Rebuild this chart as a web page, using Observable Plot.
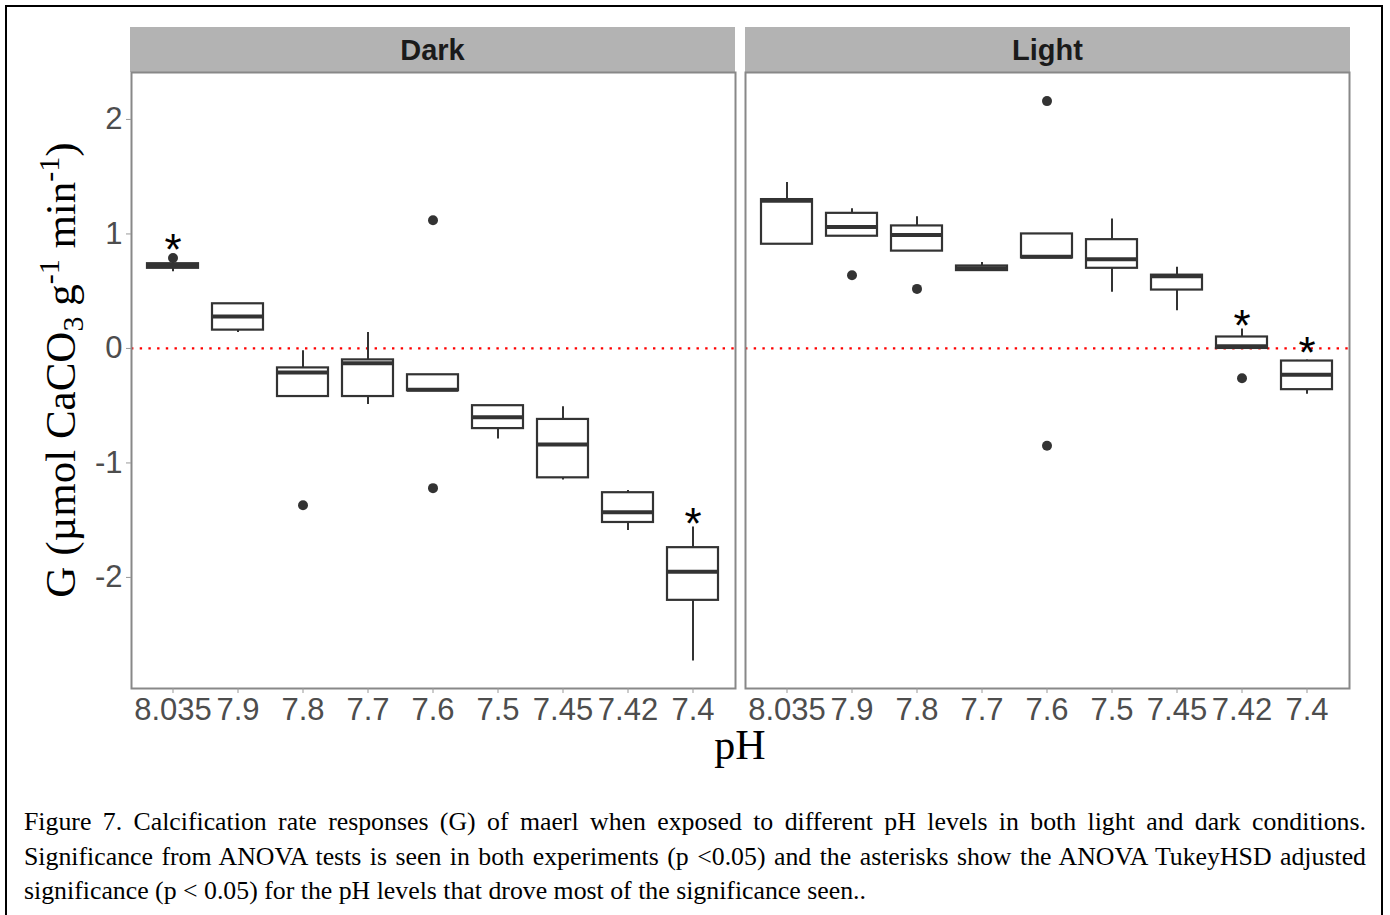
<!DOCTYPE html>
<html>
<head>
<meta charset="utf-8">
<script src="https://cdn.jsdelivr.net/npm/d3@7"></script>
<script src="https://cdn.jsdelivr.net/npm/@observablehq/plot@0.6"></script>
<style>
  html, body { margin: 0; padding: 0; background: #fff; }
  #wrap { position: relative; width: 1390px; height: 915px; overflow: hidden; }
  #border { position: absolute; left: 5px; top: 5px; width: 1378px; height: 920px; border: 2px solid #000; box-sizing: border-box; }
  #chart { position: absolute; left: 0; top: 0; }
  #caption { position: absolute; left: 24px; top: 805px; width: 1342px; font-family: "Liberation Serif", serif; font-size: 25.8px; line-height: 34.5px; color: #000; }
  #caption .j { text-align: justify; text-align-last: justify; white-space: nowrap; }
  #caption .l { text-align: left; white-space: nowrap; }
</style>
</head>
<body>
<div id="wrap">
  <div id="border"></div>
  <div id="chart"></div>
  <div id="caption">
    <div class="j">Figure 7. Calcification rate responses (G) of maerl when exposed to different pH levels in both light and dark conditions.</div>
    <div class="j">Significance from ANOVA tests is seen in both experiments (p &lt;0.05) and the asterisks show the ANOVA TukeyHSD adjusted</div>
    <div class="l">significance (p &lt; 0.05) for the pH levels that drove most of the significance seen..</div>
  </div>
</div>
<script>
// ---- data ----
const conditions = ["Dark", "Light"];
const phLevels = ["8.035", "7.9", "7.8", "7.7", "7.6", "7.5", "7.45", "7.42", "7.4"];

// Dark: lower whisker, Q1, median, Q3, upper whisker
const darkLow  = [0.67, 0.14, -0.42, -0.49, -0.37, -0.79, -1.15, -1.59, -2.73];
const darkQ1   = [0.70, 0.16, -0.42, -0.42, -0.37, -0.70, -1.13, -1.52, -2.20];
const darkMed  = [0.72, 0.28, -0.21, -0.13, -0.36, -0.60, -0.84, -1.43, -1.95];
const darkQ3   = [0.74, 0.39, -0.17, -0.10, -0.23, -0.50, -0.62, -1.26, -1.74];
const darkHigh = [0.75, 0.39, -0.02, 0.14, -0.23, -0.50, -0.51, -1.24, -1.56];

// Light
const lightLow  = [0.91, 0.98, 0.85, 0.68, 0.79, 0.49, 0.33, 0.00, -0.40];
const lightQ1   = [0.91, 0.98, 0.85, 0.68, 0.79, 0.70, 0.51, 0.00, -0.36];
const lightMed  = [1.29, 1.06, 0.99, 0.70, 0.80, 0.78, 0.63, 0.02, -0.23];
const lightQ3   = [1.30, 1.18, 1.07, 0.72, 1.00, 0.95, 0.64, 0.10, -0.11];
const lightHigh = [1.45, 1.22, 1.15, 0.75, 1.00, 1.13, 0.71, 0.17, -0.10];

// Outliers
const outlierCondition = ["Dark", "Dark", "Dark", "Dark", "Light", "Light", "Light", "Light", "Light"];
const outlierPh        = ["8.035", "7.8", "7.6", "7.6", "7.9", "7.8", "7.6", "7.6", "7.42"];
const outlierValue     = [0.79, -1.37, 1.12, -1.22, 0.64, 0.52, 2.16, -0.85, -0.26];

// Significance asterisks (TukeyHSD)
const starCondition = ["Dark", "Dark", "Light", "Light"];
const starPh        = ["8.035", "7.4", "7.42", "7.4"];
const starValue     = [0.93, -1.46, 0.27, 0.03];

const yTicks = [-2, -1, 0, 1, 2];
const yTickLabels = ["-2", "-1", "0", "1", "2"];
const yDomain = [-2.97, 2.41];

// ---- build tables ----
const boxes = [];
phLevels.forEach((p, i) => {
  boxes.push({condition: "Dark", ph: p, low: darkLow[i], q1: darkQ1[i], med: darkMed[i], q3: darkQ3[i], high: darkHigh[i]});
});
phLevels.forEach((p, i) => {
  boxes.push({condition: "Light", ph: p, low: lightLow[i], q1: lightQ1[i], med: lightMed[i], q3: lightQ3[i], high: lightHigh[i]});
});
const outliers = outlierValue.map((v, i) => ({condition: outlierCondition[i], ph: outlierPh[i], value: v}));
const stars = starValue.map((v, i) => ({condition: starCondition[i], ph: starPh[i], value: v}));

const ink = "#333333";

const chart = Plot.plot({
  width: 1390,
  height: 775,
  marginLeft: 130,
  marginRight: 40,
  marginTop: 72,
  marginBottom: 87,
  style: {fontFamily: "Liberation Sans, Arial, sans-serif", background: "transparent", overflow: "visible"},
  fx: {domain: conditions, paddingInner: 0.01626, paddingOuter: 0, axis: null, label: null},
  x: {domain: phLevels, paddingInner: 0.21, paddingOuter: 0.205, axis: null, label: null},
  y: {domain: yDomain, axis: null, label: null},
  marks: [
    Plot.ruleY([0], {stroke: "#ff0000", strokeWidth: 2.2, strokeDasharray: "2.4,6.3"}),
    Plot.ruleX(boxes, {fx: "condition", x: "ph", y1: "low", y2: "high", stroke: ink, strokeWidth: 2}),
    Plot.barY(boxes, {fx: "condition", x: "ph", y1: "q1", y2: "q3", fill: "white", stroke: ink, strokeWidth: 2.2}),
    Plot.tickY(boxes, {fx: "condition", x: "ph", y: "med", stroke: ink, strokeWidth: 4}),
    Plot.dot(outliers, {fx: "condition", x: "ph", y: "value", r: 5, fill: ink, stroke: "none"}),
    Plot.text(stars, {fx: "condition", x: "ph", y: "value", text: () => "*", fontSize: 44, dy: 9, fill: "#000"}),
    Plot.frame({stroke: "#888888", strokeWidth: 2}),
    Plot.axisY({ticks: yTicks, tickFormat: d => yTickLabels[yTicks.indexOf(d)], tickSize: 5, tickPadding: 4, fontSize: 31, fill: "#4d4d4d", stroke: "#999999", label: null}),
    Plot.axisX({tickSize: 5, tickPadding: 4, fontSize: 31, fill: "#4d4d4d", stroke: "#999999", label: null})
  ]
});

document.getElementById("chart").appendChild(chart);

// ---- facet strips, using the fx scale ----
const svg = d3.select(chart);
const fx = chart.scale("fx");
const fxScale = d3.scaleBand().domain(fx.domain).range(fx.range).paddingInner(fx.paddingInner ?? 0.01626).paddingOuter(fx.paddingOuter ?? 0);
const strips = svg.insert("g", ":first-child");
conditions.forEach(c => {
  const x0 = fxScale(c), bw = fxScale.bandwidth();
  strips.append("rect").attr("x", x0).attr("y", 27).attr("width", bw).attr("height", 45).attr("fill", "#b3b3b3");
  strips.append("text").attr("x", x0 + bw / 2).attr("y", 50).attr("text-anchor", "middle")
    .attr("dominant-baseline", "central").attr("font-size", 29).attr("font-weight", "bold")
    .attr("fill", "#1a1a1a").attr("font-family", "Liberation Sans, Arial, sans-serif").text(c);
});

// ---- axis titles ----
const yTitle = svg.append("text")
  .attr("transform", "translate(75,370) rotate(-90)")
  .attr("text-anchor", "middle")
  .attr("font-family", "Liberation Serif, Times New Roman, serif")
  .attr("font-size", 43)
  .attr("fill", "#000");
yTitle.append("tspan").text("G (µmol CaCO");
yTitle.append("tspan").attr("font-size", 30).attr("dy", 8).text("3");
yTitle.append("tspan").attr("dy", -8).text(" g");
yTitle.append("tspan").attr("font-size", 30).attr("dy", -16).text("-1");
yTitle.append("tspan").attr("dy", 16).text(" min");
yTitle.append("tspan").attr("font-size", 30).attr("dy", -16).text("-1");
yTitle.append("tspan").attr("dy", 16).text(")");

svg.append("text")
  .attr("x", 740).attr("y", 759)
  .attr("text-anchor", "middle")
  .attr("font-family", "Liberation Serif, Times New Roman, serif")
  .attr("font-size", 42)
  .attr("fill", "#000")
  .text("pH");
</script>
</body>
</html>
